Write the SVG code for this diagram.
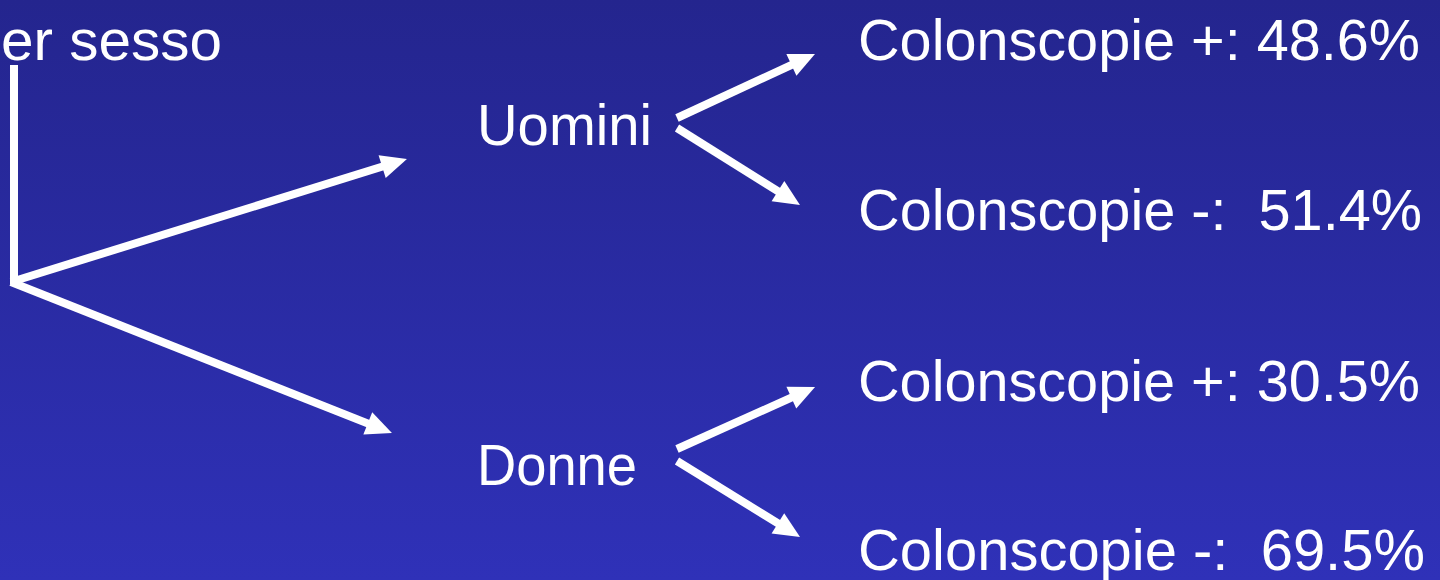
<svg xmlns="http://www.w3.org/2000/svg" width="1440" height="580" viewBox="0 0 1440 580">
  <defs>
    <linearGradient id="bg" x1="0" y1="0" x2="0" y2="1">
      <stop offset="0" stop-color="#24258e"/>
      <stop offset="1" stop-color="#2f31b8"/>
    </linearGradient>
    <marker id="ah" markerUnits="userSpaceOnUse" markerWidth="28" markerHeight="26" refX="14" refY="13" orient="auto" overflow="visible">
      <path d="M0,1 L26,13 L0,25 z" fill="#ffffff"/>
    </marker>
    <style>
      .t { font-family: "Liberation Sans", Arial, sans-serif; font-size: 58px; fill: #ffffff; white-space: pre; }
      .c { stroke: #ffffff; stroke-width: 8; fill: none; }
      .a { marker-end: url(#ah); }
    </style>
  </defs>
  <rect x="0" y="0" width="1440" height="580" fill="url(#bg)"/>

  <g id="root">
    <text class="t" x="1" y="60" textLength="221" lengthAdjust="spacingAndGlyphs">er sesso</text>
  </g>
  <g id="uomini">
    <text class="t" x="477" y="145" textLength="175" lengthAdjust="spacingAndGlyphs">Uomini</text>
  </g>
  <g id="donne">
    <text class="t" x="477" y="485" textLength="160" lengthAdjust="spacingAndGlyphs">Donne</text>
  </g>
  <g id="u-pos">
    <text class="t" x="858" y="60" textLength="562" lengthAdjust="spacingAndGlyphs">Colonscopie +: 48.6%</text>
  </g>
  <g id="u-neg">
    <text class="t" x="858" y="230" textLength="564" lengthAdjust="spacingAndGlyphs">Colonscopie -:  51.4%</text>
  </g>
  <g id="d-pos">
    <text class="t" x="858" y="401" textLength="562" lengthAdjust="spacingAndGlyphs">Colonscopie +: 30.5%</text>
  </g>
  <g id="d-neg">
    <text class="t" x="858" y="570" textLength="567" lengthAdjust="spacingAndGlyphs">Colonscopie -:  69.5%</text>
  </g>

  <g id="connectors">
    <line class="c" x1="14" y1="65" x2="14" y2="284"/>
    <path class="c a" d="M11,282 L395.5,162.5"/>
    <path class="c a" d="M11,282 L380.8,428.6"/>
    <path class="c a" d="M677,118 L804.1,59.1"/>
    <path class="c a" d="M677,128 L789.8,198.6"/>
    <path class="c a" d="M677,449 L804.1,391.9"/>
    <path class="c a" d="M677,461 L789.8,530.7"/>
  </g>
</svg>
